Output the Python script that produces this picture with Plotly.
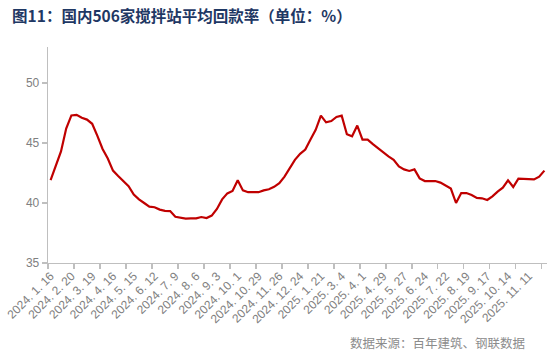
import plotly.graph_objects as go

# Weekly average collection rate (%) of 506 concrete mixing stations
values = [
    41.9, 43.1, 44.3, 46.2, 47.3, 47.35, 47.1, 46.95, 46.6, 45.6,
    44.5, 43.7, 42.7, 42.25, 41.8, 41.4, 40.7, 40.3, 40.0, 39.7,
    39.65, 39.45, 39.35, 39.33, 38.85, 38.75, 38.7, 38.72, 38.72, 38.83,
    38.75, 38.95, 39.5, 40.3, 40.8, 41.0, 41.9, 41.05, 40.9, 40.9,
    40.9, 41.05, 41.15, 41.35, 41.65, 42.2, 42.95, 43.6, 44.1, 44.45,
    45.3, 46.1, 47.28, 46.72, 46.83, 47.17, 47.28, 45.73, 45.56, 46.45,
    45.28, 45.28, 44.9, 44.55, 44.17, 43.88, 43.6, 43.05, 42.8, 42.67,
    42.8, 42.05, 41.83, 41.83, 41.83, 41.7, 41.45, 41.2, 40.0, 40.83,
    40.83, 40.67, 40.42, 40.39, 40.25, 40.56, 40.95, 41.28, 41.89, 41.33,
    42.03, 42.03, 41.97, 41.97, 42.2, 42.7,
]
categories = list(range(len(values)))

tick_labels = [
    "2024. 1. 16", "2024. 2. 20", "2024. 3. 19", "2024. 4. 16", "2024. 5. 15",
    "2024. 6. 12", "2024. 7. 9", "2024. 8. 6", "2024. 9. 3", "2024. 10. 1",
    "2024. 10. 29", "2024. 11. 26", "2024. 12. 24", "2025. 1. 21", "2025. 3. 4",
    "2025. 4. 1", "2025. 4. 29", "2025. 5. 27", "2025. 6. 24", "2025. 7. 22",
    "2025. 8. 19", "2025. 9. 17", "2025. 10. 14", "2025. 11. 11",
]
label_step = 4
tick_mark_step = 5

title_text = "图11：国内506家搅拌站平均回款率（单位：%）"
source_text = "数据来源：百年建筑、钢联数据"

fig = go.Figure()
fig.add_trace(go.Scatter(
    x=categories, y=values, mode="lines",
    line=dict(color="#c00000", width=2.2),
    hoverinfo="skip", showlegend=False, cliponaxis=False,
))

axis_gray = "#bfbfbf"
tick_font = dict(family="Liberation Sans, Arial, sans-serif", size=12, color="#808080")

fig.update_layout(
    width=550, height=360,
    margin=dict(l=48, r=3, t=47, b=97, autoexpand=False),
    paper_bgcolor="white", plot_bgcolor="white",
    title=dict(
        text="<b>" + title_text + "</b>",
        x=0.022, xref="container", xanchor="left",
        y=0.955, yref="container", yanchor="middle",
        font=dict(family="Noto Sans CJK SC, sans-serif", size=15.5, color="#1f3864"),
    ),
    xaxis=dict(
        range=[-0.5, len(values) - 0.5],
        automargin=False,
        tickmode="array",
        tickvals=categories[::label_step],
        ticktext=tick_labels,
        tickangle=-45,
        ticks="",
        tickfont=tick_font,
        showgrid=False, zeroline=False,
        showline=True, linecolor=axis_gray, linewidth=1.3,
        minor=dict(
            tickmode="linear", tick0=-0.5, dtick=tick_mark_step,
            ticks="outside", ticklen=5, tickcolor=axis_gray, tickwidth=1.3,
            showgrid=False,
        ),
    ),
    yaxis=dict(
        range=[35, 53],
        automargin=False,
        tickmode="linear", tick0=35, dtick=5,
        ticks="outside", ticklen=5, tickcolor=axis_gray, tickwidth=1.3,
        tickfont=tick_font,
        showgrid=False, zeroline=False,
        showline=True, linecolor=axis_gray, linewidth=1.3,
    ),
    annotations=[dict(
        text=source_text,
        xref="paper", yref="paper",
        x=0.959, y=-0.366, xanchor="right", yanchor="middle",
        showarrow=False,
        font=dict(family="Noto Sans CJK SC, sans-serif", size=12.5, color="#8c8c8c"),
    )],
)

fig.write_html(
    "out.html",
    config={"displayModeBar": False, "staticPlot": True},
    post_script="document.body.style.margin='0';document.body.style.overflow='hidden';",
)
